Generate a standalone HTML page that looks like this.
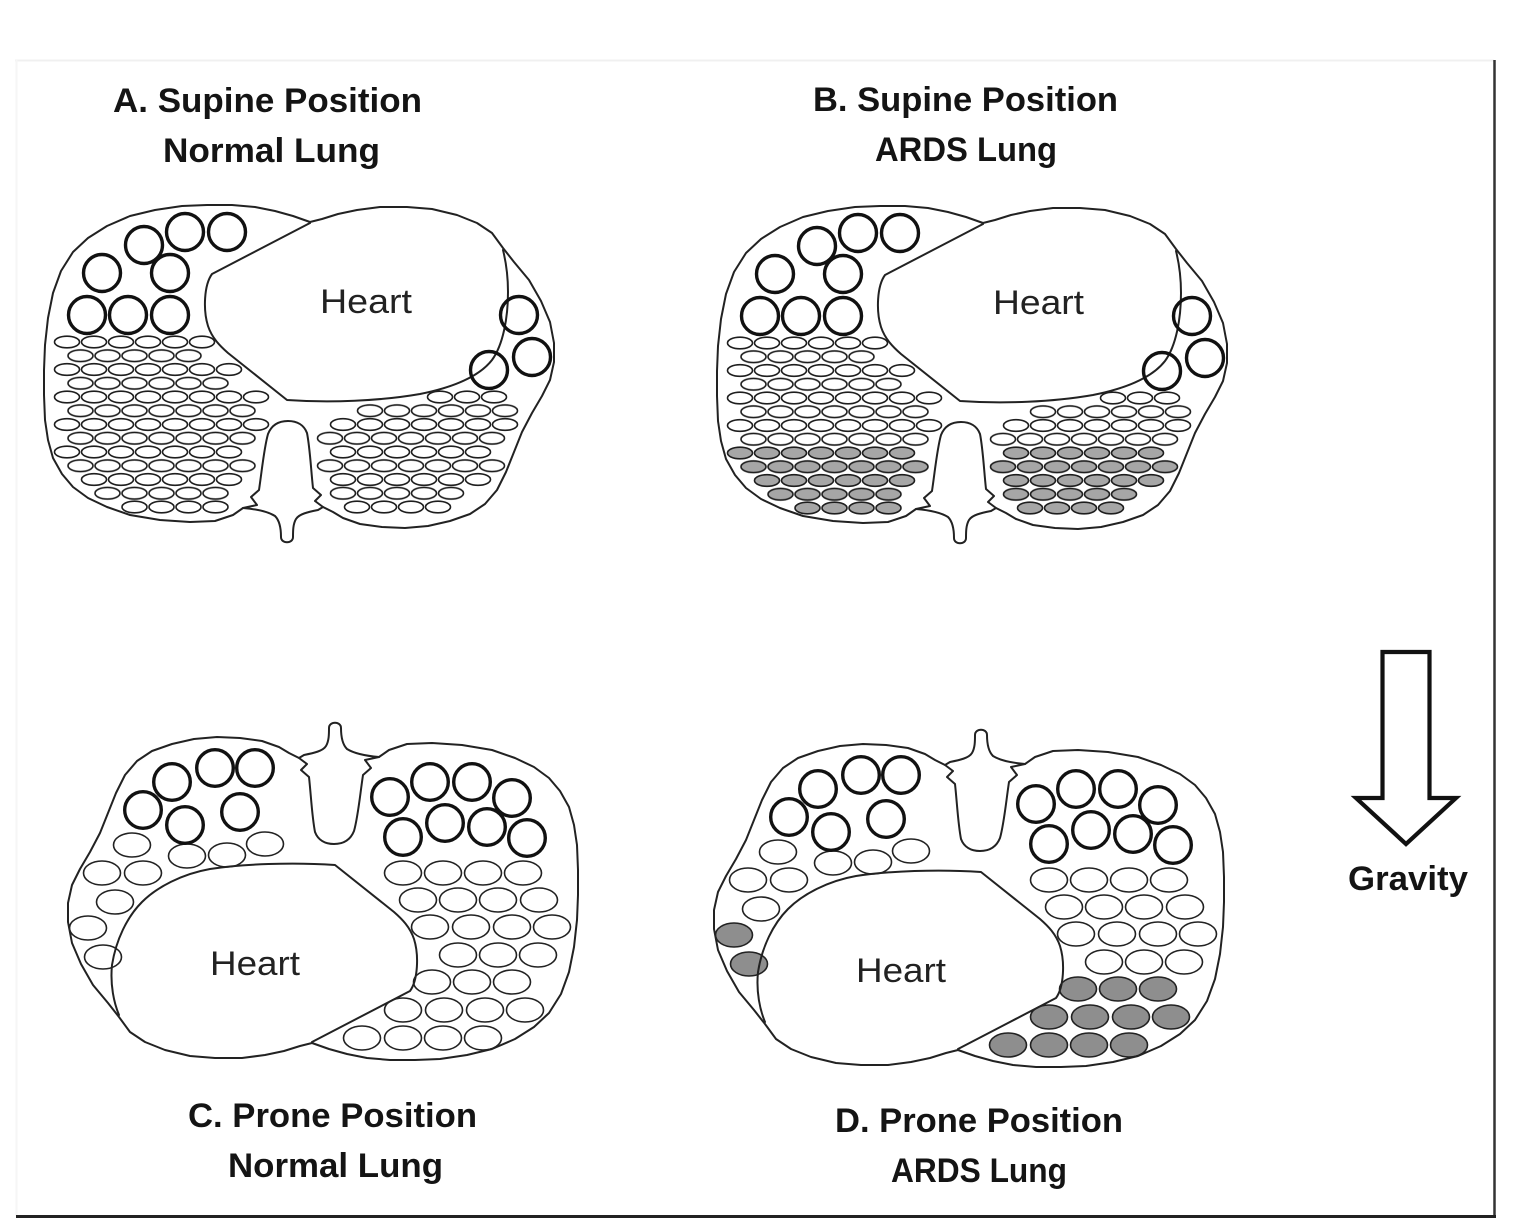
<!DOCTYPE html>
<html>
<head>
<meta charset="utf-8">
<style>
html,body{margin:0;padding:0;background:#fff;}
svg{display:block;}
.t{font-family:"Liberation Sans",Arial,sans-serif;font-weight:bold;font-size:34px;fill:#141414;}
.h{font-family:"Liberation Sans",Arial,sans-serif;font-size:34px;fill:#222;}
</style>
</head>
<body>
<svg width="1526" height="1230" viewBox="0 0 1526 1230" xmlns="http://www.w3.org/2000/svg">
<defs>
  <pattern id="pw" patternUnits="userSpaceOnUse" width="27" height="14">
    <ellipse cx="13.5" cy="7" rx="12.5" ry="5.8" fill="#fff" stroke="#1e1e1e" stroke-width="1.6"/>
  </pattern>
  <pattern id="pg" patternUnits="userSpaceOnUse" width="27" height="14">
    <ellipse cx="13.5" cy="7" rx="12.5" ry="5.8" fill="#a6a6a6" stroke="#1e1e1e" stroke-width="1.6"/>
  </pattern>

  <g id="base" fill="none" stroke="#222" stroke-width="2" stroke-linejoin="round" stroke-linecap="round">
    <path d="M243,508 L233,515 L215,521 L190,522 L160,520 L130,515 L107,507 L88,498 L73,487 L62,474 L53,458 L48,440 L45,420 L44,395 L44,370 L45,345 L48,318 L53,293 L61,271 L73,252 L88,238 L107,226 L130,216 L155,210 L182,206 L207,205 L232,205 L255,207 L275,211 L293,216 L310,222 L322,219 L338,214 L357,210 L380,207 L407,207 L432,209 L457,215 L477,223 L492,233 L503,248 L514,262 L529,280 L541,301 L550,322 L554,343 L554,362 L550,380 L542,396 L532,413 L522,432 L514,452 L506,472 L497,490 L485,504 L470,514 L450,521 L428,526 L405,528 L382,527 L360,524 L343,518 L333,512 L323,507"/>
    <path d="M243,508 L257,505 L251,497 L259,490 C262,470 264,448 268,434 C272,424 280,421 288,421 C297,421 304,425 307,433 C310,448 311,470 313,488 L321,495 L315,501 L323,507 L318,510 C308,512 299,514 296,519 C293,524 293,531 293,537 C293,544 281,544 281,537 C281,529 280,521 275,516 C267,511 255,509 243,508 Z"/>
  </g>
  <g id="shape" fill="none" stroke="#222" stroke-width="2" stroke-linejoin="round" stroke-linecap="round">
    <use href="#base"/>
    <path d="M310,223 L260,249 L212,274 C204,285 203,310 208,326 C212,338 220,346 228,353 L287,400 C330,403 380,401 420,394 C450,388 478,378 492,360 C503,345 508,318 508,292 C508,275 506,262 503,250"/>
  </g>
  <g id="shapeC" fill="none" stroke="#222" stroke-width="2" stroke-linejoin="round" stroke-linecap="round">
    <use href="#base"/>
    <path d="M310,223 L260,249 L212,274 C204,285 203,310 208,326 C212,338 220,346 228,353 L287,400 C330,403 380,401 412,396 C440,391 465,378 480,363 C495,348 506,325 510,300 C512,280 508,262 503,250"/>
  </g>

  <g id="circA" fill="none" stroke="#111" stroke-width="3.4">
    <circle cx="87" cy="315" r="18.5"/>
    <circle cx="128" cy="315" r="18.5"/>
    <circle cx="170" cy="315" r="18.5"/>
    <circle cx="102" cy="273" r="18.5"/>
    <circle cx="170" cy="273" r="18.5"/>
    <circle cx="144" cy="245" r="18.5"/>
    <circle cx="185" cy="232" r="18.5"/>
    <circle cx="227" cy="232" r="18.5"/>
    <circle cx="519" cy="315" r="18.5"/>
    <circle cx="532" cy="357" r="18.5"/>
    <circle cx="489" cy="370" r="18.5"/>
  </g>

  <g id="circC" fill="none" stroke="#111" stroke-width="3.4">
    <circle cx="172" cy="782" r="18.3"/>
    <circle cx="215" cy="768" r="18.3"/>
    <circle cx="255" cy="768" r="18.3"/>
    <circle cx="143" cy="810" r="18.3"/>
    <circle cx="185" cy="825" r="18.3"/>
    <circle cx="240" cy="812" r="18.3"/>
    <circle cx="390" cy="797" r="18.3"/>
    <circle cx="430" cy="782" r="18.3"/>
    <circle cx="472" cy="782" r="18.3"/>
    <circle cx="512" cy="798" r="18.3"/>
    <circle cx="403" cy="837" r="18.3"/>
    <circle cx="445" cy="823" r="18.3"/>
    <circle cx="487" cy="827" r="18.3"/>
    <circle cx="527" cy="838" r="18.3"/>
  </g>

  <g id="ellCw" stroke="#222" stroke-width="1.6" fill="#fff">
    <ellipse cx="132" cy="845" rx="18.5" ry="12"/>
    <ellipse cx="187" cy="856" rx="18.5" ry="12"/>
    <ellipse cx="227" cy="855" rx="18.5" ry="12"/>
    <ellipse cx="265" cy="844" rx="18.5" ry="12"/>
    <ellipse cx="102" cy="873" rx="18.5" ry="12"/>
    <ellipse cx="143" cy="873" rx="18.5" ry="12"/>
    <ellipse cx="115" cy="902" rx="18.5" ry="12"/>
    <ellipse cx="403" cy="873" rx="18.5" ry="12"/>
    <ellipse cx="443" cy="873" rx="18.5" ry="12"/>
    <ellipse cx="483" cy="873" rx="18.5" ry="12"/>
    <ellipse cx="523" cy="873" rx="18.5" ry="12"/>
    <ellipse cx="418" cy="900" rx="18.5" ry="12"/>
    <ellipse cx="458" cy="900" rx="18.5" ry="12"/>
    <ellipse cx="498" cy="900" rx="18.5" ry="12"/>
    <ellipse cx="539" cy="900" rx="18.5" ry="12"/>
    <ellipse cx="430" cy="927" rx="18.5" ry="12"/>
    <ellipse cx="471" cy="927" rx="18.5" ry="12"/>
    <ellipse cx="512" cy="927" rx="18.5" ry="12"/>
    <ellipse cx="552" cy="927" rx="18.5" ry="12"/>
    <ellipse cx="458" cy="955" rx="18.5" ry="12"/>
    <ellipse cx="498" cy="955" rx="18.5" ry="12"/>
    <ellipse cx="538" cy="955" rx="18.5" ry="12"/>
  </g>
  <g id="ellCx" stroke="#222" stroke-width="1.6">
    <ellipse cx="88" cy="928" rx="18.5" ry="12"/>
    <ellipse cx="103" cy="957" rx="18.5" ry="12"/>
    <ellipse cx="432" cy="982" rx="18.5" ry="12"/>
    <ellipse cx="472" cy="982" rx="18.5" ry="12"/>
    <ellipse cx="512" cy="982" rx="18.5" ry="12"/>
    <ellipse cx="403" cy="1010" rx="18.5" ry="12"/>
    <ellipse cx="444" cy="1010" rx="18.5" ry="12"/>
    <ellipse cx="485" cy="1010" rx="18.5" ry="12"/>
    <ellipse cx="525" cy="1010" rx="18.5" ry="12"/>
    <ellipse cx="362" cy="1038" rx="18.5" ry="12"/>
    <ellipse cx="403" cy="1038" rx="18.5" ry="12"/>
    <ellipse cx="443" cy="1038" rx="18.5" ry="12"/>
    <ellipse cx="483" cy="1038" rx="18.5" ry="12"/>
  </g>
</defs>

<rect x="0" y="0" width="1526" height="1230" fill="#fff"/>

<!-- frame -->
<line x1="15" y1="60.5" x2="1494" y2="60.5" stroke="#f0f0f0" stroke-width="2"/>
<line x1="16.5" y1="60" x2="16.5" y2="1216" stroke="#f6f6f6" stroke-width="2"/>
<line x1="1494.5" y1="60" x2="1494.5" y2="1218" stroke="#333" stroke-width="2.5"/>
<line x1="16" y1="1216.5" x2="1496" y2="1216.5" stroke="#222" stroke-width="3"/>

<!-- Titles -->
<text class="t" x="113" y="112" textLength="309" lengthAdjust="spacingAndGlyphs">A. Supine Position</text>
<text class="t" x="163" y="162" textLength="217" lengthAdjust="spacingAndGlyphs">Normal Lung</text>
<text class="t" x="813" y="111" textLength="305" lengthAdjust="spacingAndGlyphs">B. Supine Position</text>
<text class="t" x="875" y="161" textLength="182" lengthAdjust="spacingAndGlyphs">ARDS Lung</text>
<text class="t" x="188" y="1127" textLength="289" lengthAdjust="spacingAndGlyphs">C. Prone Position</text>
<text class="t" x="228" y="1177" textLength="215" lengthAdjust="spacingAndGlyphs">Normal Lung</text>
<text class="t" x="835" y="1132" textLength="288" lengthAdjust="spacingAndGlyphs">D. Prone Position</text>
<text class="t" x="891" y="1182" textLength="176" lengthAdjust="spacingAndGlyphs">ARDS Lung</text>

<!-- Panel A -->
<g>
  <rect transform="translate(53.5 335)" width="162" height="14" fill="url(#pw)"/>
  <rect transform="translate(67 348.75)" width="135" height="14" fill="url(#pw)"/>
  <rect transform="translate(53.5 362.5)" width="189" height="14" fill="url(#pw)"/>
  <rect transform="translate(67 376.25)" width="162" height="14" fill="url(#pw)"/>
  <rect transform="translate(53.5 390)" width="216" height="14" fill="url(#pw)"/>
  <rect transform="translate(67 403.75)" width="189" height="14" fill="url(#pw)"/>
  <rect transform="translate(53.5 417.5)" width="216" height="14" fill="url(#pw)"/>
  <rect transform="translate(67 431.25)" width="189" height="14" fill="url(#pw)"/>
  <rect transform="translate(53.5 445)" width="189" height="14" fill="url(#pw)"/>
  <rect transform="translate(67 458.75)" width="189" height="14" fill="url(#pw)"/>
  <rect transform="translate(80.5 472.5)" width="162" height="14" fill="url(#pw)"/>
  <rect transform="translate(94 486.25)" width="135" height="14" fill="url(#pw)"/>
  <rect transform="translate(121 500)" width="108" height="14" fill="url(#pw)"/>

  <rect transform="translate(426.5 390)" width="81" height="14" fill="url(#pw)"/>
  <rect transform="translate(356.5 403.75)" width="162" height="14" fill="url(#pw)"/>
  <rect transform="translate(329.5 417.5)" width="189" height="14" fill="url(#pw)"/>
  <rect transform="translate(316.5 431.25)" width="189" height="14" fill="url(#pw)"/>
  <rect transform="translate(329.5 445)" width="162" height="14" fill="url(#pw)"/>
  <rect transform="translate(316.5 458.75)" width="189" height="14" fill="url(#pw)"/>
  <rect transform="translate(329.5 472.5)" width="162" height="14" fill="url(#pw)"/>
  <rect transform="translate(329.5 486.25)" width="135" height="14" fill="url(#pw)"/>
  <rect transform="translate(343.5 500)" width="108" height="14" fill="url(#pw)"/>

  <use href="#shape"/>
  <use href="#circA"/>
  <text class="h" x="320" y="313" textLength="92" lengthAdjust="spacingAndGlyphs">Heart</text>
</g>

<!-- Panel B -->
<g transform="translate(673 1)">
  <rect transform="translate(53.5 335)" width="162" height="14" fill="url(#pw)"/>
  <rect transform="translate(67 348.75)" width="135" height="14" fill="url(#pw)"/>
  <rect transform="translate(53.5 362.5)" width="189" height="14" fill="url(#pw)"/>
  <rect transform="translate(67 376.25)" width="162" height="14" fill="url(#pw)"/>
  <rect transform="translate(53.5 390)" width="216" height="14" fill="url(#pw)"/>
  <rect transform="translate(67 403.75)" width="189" height="14" fill="url(#pw)"/>
  <rect transform="translate(53.5 417.5)" width="216" height="14" fill="url(#pw)"/>
  <rect transform="translate(67 431.25)" width="189" height="14" fill="url(#pw)"/>
  <rect transform="translate(53.5 445)" width="189" height="14" fill="url(#pg)"/>
  <rect transform="translate(67 458.75)" width="189" height="14" fill="url(#pg)"/>
  <rect transform="translate(80.5 472.5)" width="162" height="14" fill="url(#pg)"/>
  <rect transform="translate(94 486.25)" width="135" height="14" fill="url(#pg)"/>
  <rect transform="translate(121 500)" width="108" height="14" fill="url(#pg)"/>

  <rect transform="translate(426.5 390)" width="81" height="14" fill="url(#pw)"/>
  <rect transform="translate(356.5 403.75)" width="162" height="14" fill="url(#pw)"/>
  <rect transform="translate(329.5 417.5)" width="189" height="14" fill="url(#pw)"/>
  <rect transform="translate(316.5 431.25)" width="189" height="14" fill="url(#pw)"/>
  <rect transform="translate(329.5 445)" width="162" height="14" fill="url(#pg)"/>
  <rect transform="translate(316.5 458.75)" width="189" height="14" fill="url(#pg)"/>
  <rect transform="translate(329.5 472.5)" width="162" height="14" fill="url(#pg)"/>
  <rect transform="translate(329.5 486.25)" width="135" height="14" fill="url(#pg)"/>
  <rect transform="translate(343.5 500)" width="108" height="14" fill="url(#pg)"/>

  <use href="#shape"/>
  <use href="#circA"/>
  <text class="h" x="320" y="313" textLength="91" lengthAdjust="spacingAndGlyphs">Heart</text>
</g>

<!-- Panel C -->
<g>
  <use href="#ellCw"/>
  <use href="#ellCx" fill="#fff"/>
  <use href="#shapeC" transform="matrix(-1 0 0 -1 622 1265)"/>
  <use href="#circC"/>
  <text class="h" x="210" y="975" textLength="90" lengthAdjust="spacingAndGlyphs">Heart</text>
</g>

<!-- Panel D -->
<g transform="translate(646 7)">
  <use href="#ellCw"/>
  <use href="#ellCx" fill="#8e8e8e"/>
  <use href="#shapeC" transform="matrix(-1 0 0 -1 622 1265)"/>
  <use href="#circC"/>
  <text class="h" x="210" y="975" textLength="90" lengthAdjust="spacingAndGlyphs">Heart</text>
</g>

<!-- Gravity arrow -->
<polygon points="1382.5,652 1429.5,652 1429.5,798 1456,798 1406,844 1356,798 1382.5,798" fill="#fff" stroke="#111" stroke-width="4.2" stroke-linejoin="miter"/>
<text class="t" x="1348" y="890" font-size="31" textLength="120" lengthAdjust="spacingAndGlyphs">Gravity</text>
</svg>
</body>
</html>
